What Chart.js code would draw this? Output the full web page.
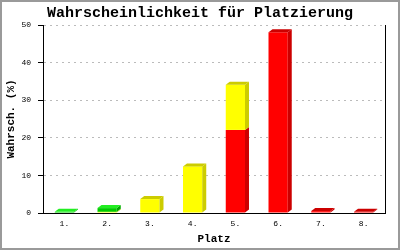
<!DOCTYPE html>
<html><head><meta charset="utf-8">
<script src="https://cdn.jsdelivr.net/npm/chart.js@4"></script>
<style>html,body{margin:0;padding:0;background:#fff}#wrap{width:400px;height:250px;position:relative}canvas{display:block}</style>
</head><body><div id="wrap"><canvas id="c" width="400" height="250"></canvas></div>
<script>
const categories = ['1.', '2.', '3.', '4.', '5.', '6.', '7.', '8.'];
const redValues = [0, 0, 0, 0, 22.1, 48.1, 0.5, 0.3];
const yellowValues = [0, 0.3, 3.7, 12.4, 12.0, 0, 0, 0];
const greenValues = [0.3, 1.0, 0, 0, 0, 0, 0, 0];
const yTickValues = [0, 10, 20, 30, 40, 50];
const titleText = 'Wahrscheinlichkeit für Platzierung';
const yTitle = 'Wahrsch. (%)';
const xTitle = 'Platz';

const FONT = "'Liberation Mono', 'DejaVu Sans Mono', monospace";

const depth3d = {
  id: 'depth3d',
  afterDatasetsDraw(chart) {
    const ctx = chart.ctx, dx = 4, dy = 3;
    const ds = chart.data.datasets;
    const n = chart.data.labels.length;
    ctx.save();
    for (let j = 0; j < n; j++) {
      let top = -1;
      ds.forEach((d, i) => { if (d.data[j] > 0) top = i; });
      ds.forEach((d, i) => {
        if (!(d.data[j] > 0)) return;
        const el = chart.getDatasetMeta(i).data[j];
        const left = el.x - el.width / 2, right = el.x + el.width / 2;
        const y = el.y, base = el.base;
        ctx.fillStyle = d.sideColor;
        ctx.beginPath();
        ctx.moveTo(right, y); ctx.lineTo(right + dx, y - dy);
        ctx.lineTo(right + dx, base - dy); ctx.lineTo(right, base);
        ctx.closePath(); ctx.fill();
        if (i === top) {
          ctx.fillStyle = d.topColor;
          ctx.beginPath();
          ctx.moveTo(left, y); ctx.lineTo(left + dx, y - dy);
          ctx.lineTo(right + dx, y - dy); ctx.lineTo(right, y);
          ctx.closePath(); ctx.fill();
        }
      });
    }
    ctx.restore();
  }
};

const frame = {
  id: 'frame',
  beforeDraw(chart) {
    const ctx = chart.ctx;
    ctx.save(); ctx.fillStyle = '#fff'; ctx.fillRect(0, 0, chart.width, chart.height); ctx.restore();
  },
  afterDraw(chart) {
    const ctx = chart.ctx;
    ctx.save(); ctx.strokeStyle = '#9a9a9a'; ctx.lineWidth = 2;
    ctx.strokeRect(1, 1, chart.width - 2, chart.height - 2); ctx.restore();
  }
};

new Chart(document.getElementById('c'), {
  type: 'bar',
  data: {
    labels: categories,
    datasets: [
      { label: 'rot', data: redValues, backgroundColor: '#ff0000', sideColor: '#cc0000', topColor: '#cc0000' },
      { label: 'gelb', data: yellowValues, backgroundColor: '#ffff00', sideColor: '#cccc00', topColor: '#cccc00' },
      { label: 'grün', data: greenValues, backgroundColor: '#00cc00', sideColor: '#00aa00', topColor: '#22ee22' }
    ]
  },
  options: {
    responsive: false,
    animation: false,
    devicePixelRatio: 1,
    layout: { padding: 0 },
    datasets: { bar: { categoryPercentage: 1, barPercentage: 0.45, borderWidth: 0 } },
    plugins: {
      legend: { display: false },
      tooltip: { enabled: false },
      title: {
        display: true, text: titleText, color: '#000',
        font: { family: FONT, size: 15, weight: 'bold' },
        padding: { top: 4, bottom: 3 }
      }
    },
    scales: {
      x: {
        stacked: true,
        grid: { display: false, drawTicks: false },
        border: { display: true, color: '#000', width: 1 },
        ticks: { color: '#000', font: { family: FONT, size: 8 }, padding: 6, maxRotation: 0 },
        title: { display: true, text: xTitle, color: '#000', font: { family: FONT, size: 11, weight: 'bold' }, padding: { top: 0, bottom: 4 } },
        afterFit(s) { s.height = 37; }
      },
      y: {
        stacked: true, min: 0, max: 50,
        afterBuildTicks(s) { s.ticks = yTickValues.map(v => ({ value: v })); },
        grid: {
          color: c => (c.tick && c.tick.value === 0) ? 'rgba(0,0,0,0)' : '#bbbbbb',
          lineWidth: 1, tickLength: 5, tickColor: '#000', tickWidth: 1, tickBorderDash: []
        },
        border: { display: true, color: '#000', width: 1, dash: [2, 4] },
        ticks: { color: '#000', font: { family: FONT, size: 8 }, padding: 7 },
        title: { display: true, text: yTitle, color: '#000', font: { family: FONT, size: 11, weight: 'bold' }, padding: { top: 5, bottom: 0 } },
        afterFit(s) { s.width = 43; }
      },
      yR: {
        position: 'right', display: true,
        grid: { drawOnChartArea: false, drawTicks: false },
        ticks: { display: false },
        border: { display: true, color: '#000', width: 1 },
        afterFit(s) { s.width = 15; }
      }
    }
  },
  plugins: [depth3d, frame]
});
</script>
</body></html>
